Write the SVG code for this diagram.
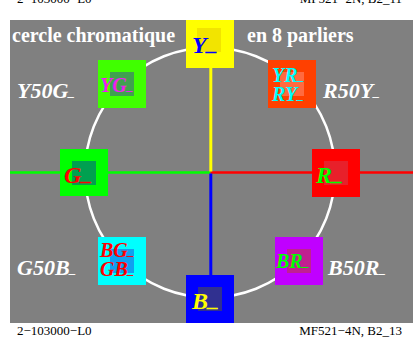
<svg xmlns="http://www.w3.org/2000/svg" width="413" height="340" viewBox="0 0 413 340">
<style>
text{font-family:"Liberation Serif","Times New Roman",serif}
.foot{font-size:13px;fill:#000}
.title{font-size:20px;font-weight:bold;fill:#fff}
.lab{font-size:22px;font-weight:bold;font-style:italic;fill:#fff}
.big{font-size:24px;font-weight:bold;font-style:italic}
.sm{font-size:20px;font-weight:bold;font-style:italic}
.u1{font-size:22px}
.u2{font-size:13px}
</style>
<rect width="413" height="340" fill="#fff"/>
<text class="foot" x="17" y="3">2−103000−L0</text>
<text class="foot" x="402" y="3" text-anchor="end">MF521−2N, B2_11</text>
<rect x="10" y="20" width="403" height="303" fill="#808080"/>
<g id="circle"><circle cx="210" cy="172.5" r="125" fill="none" stroke="#fff" stroke-width="2.5"/></g>
<g id="connectors">
<line x1="10" y1="172.5" x2="210.5" y2="172.5" stroke="#00ff00" stroke-width="2.5"/>
<line x1="210.5" y1="172.5" x2="413" y2="172.5" stroke="#ff0000" stroke-width="2.5"/>
<line x1="210.8" y1="66" x2="210.8" y2="171.5" stroke="#ffff00" stroke-width="3"/>
<line x1="210.8" y1="173.5" x2="210.8" y2="277" stroke="#0000ff" stroke-width="3"/>
</g>
<text class="title" x="12" y="42">cercle chromatique</text>
<text class="title" x="247" y="42">en 8 parliers</text>
<g id="Y">
<rect x="186" y="20" width="48" height="48" fill="#ffff00"/>
<rect x="197" y="28" width="24" height="24" fill="#f2e400"/>
<text class="big" x="192" y="53" fill="#0000ff">Y<tspan class="u1" dy="-3">_</tspan></text>
</g>
<g id="YG">
<rect x="98" y="60" width="48" height="48" fill="#40ff00"/>
<rect x="110" y="72" width="24" height="24" fill="#40a050"/>
<text class="sm" x="100" y="92" fill="#f020f0">YG<tspan class="u2" dy="-2">_</tspan></text>
</g>
<g id="YR">
<rect x="268" y="60" width="48" height="48" fill="#ff4000"/>
<rect x="280" y="72" width="24" height="24" fill="#ff6a40"/>
<text class="sm" x="272" y="82" fill="#00ffff">YR<tspan class="u2" dy="-2">_</tspan></text>
<text class="sm" x="272" y="101" fill="#00ffff">RY<tspan class="u2" dy="-2">_</tspan></text>
</g>
<g id="G">
<rect x="60" y="149" width="48" height="47" fill="#00ff00"/>
<rect x="72" y="161" width="24" height="24" fill="#00a050"/>
<text class="big" x="64" y="183" fill="#ff0000">G<tspan class="u1" dy="-3">_</tspan></text>
</g>
<g id="R">
<rect x="312" y="149" width="48" height="48" fill="#ff0000"/>
<rect x="324" y="161" width="24" height="24" fill="#e8202a"/>
<text class="big" x="316" y="183" fill="#00ff00">R<tspan class="u1" dy="-3">_</tspan></text>
</g>
<g id="BG">
<rect x="98" y="237" width="48" height="48" fill="#00ffff"/>
<rect x="110" y="249" width="24" height="24" fill="#10a0f0"/>
<text class="sm" x="100" y="257" fill="#ff0000">BG<tspan class="u2" dy="-2">_</tspan></text>
<text class="sm" x="100" y="276" fill="#ff0000">GB<tspan class="u2" dy="-2">_</tspan></text>
</g>
<g id="BR">
<rect x="275" y="237" width="48" height="48" fill="#c000ff"/>
<rect x="287" y="249" width="24" height="24" fill="#c02090"/>
<text class="sm" x="276" y="268" fill="#00ff00">BR<tspan class="u2" dy="-2">_</tspan></text>
</g>
<g id="B">
<rect x="186" y="275" width="48" height="48" fill="#0000ff"/>
<rect x="198" y="287" width="24" height="24" fill="#303090"/>
<text class="big" x="192" y="309" fill="#ffff00">B<tspan class="u1" dy="-3">_</tspan></text>
</g>
<g id="labels">
<text class="lab" x="17" y="98">Y50G<tspan class="u2" dy="-2">_</tspan></text>
<text class="lab" x="323" y="98">R50Y<tspan class="u2" dy="-2">_</tspan></text>
<text class="lab" x="17" y="275">G50B<tspan class="u2" dy="-2">_</tspan></text>
<text class="lab" x="328" y="275">B50R<tspan class="u2" dy="-2">_</tspan></text>
</g>
<text class="foot" x="17" y="335">2−103000−L0</text>
<text class="foot" x="402" y="335" text-anchor="end">MF521−4N, B2_13</text>
</svg>
